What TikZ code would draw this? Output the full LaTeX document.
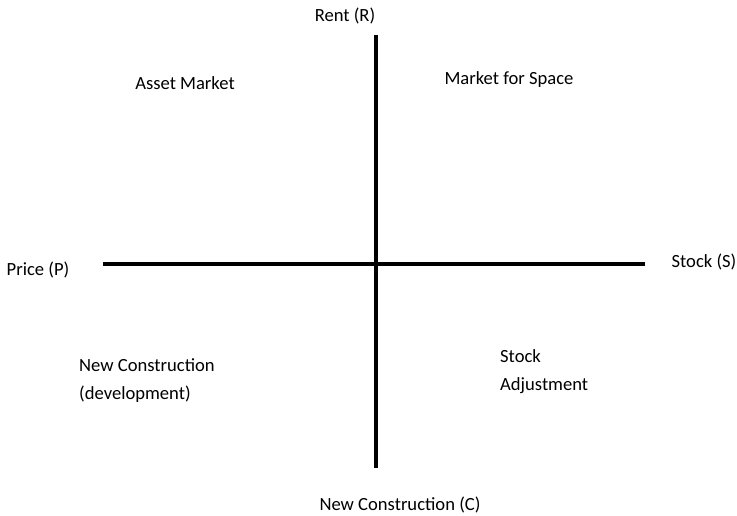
\documentclass[tikz,border=0pt]{standalone}
\usepackage{fontspec}
\setmainfont{Carlito}
\usepackage{tikz}

\begin{document}
\begin{tikzpicture}[x=1pt,y=-1pt]
            \tikzstyle{every node}+=[inner sep=0pt, font=\fontsize{18.6}{28}\selectfont]
            \tikzset{axisline/.style={black, line width=4pt}}
            \useasboundingbox (0,0) rectangle (737,516);
            \coordinate (left) at (103,264);
            \coordinate (right) at (645,264);
            \coordinate (top) at (376,35);
            \coordinate (bottom) at (376,468);
            \draw [axisline] (left) -- (right);
            \draw [axisline] (top) -- (bottom);
            \node (rent) at (345,16) {Rent (R)};
            \node (price) at (38,270) {Price (P)};
            \node (stock) at (704,262) {Stock (S)};
            \node (constr) at (400,505) {New Construction (C)};
            \node (asset) at (185,83) {Asset Market};
            \node (space) at (509,80) {Market for Space};
            \node (develop) [anchor=west, align=left] at (79,381) {New Construction\\(development)};
            \node (adjust) [anchor=west, align=left] at (500,372) {Stock\\Adjustment};
            \end{tikzpicture}
\end{document}
